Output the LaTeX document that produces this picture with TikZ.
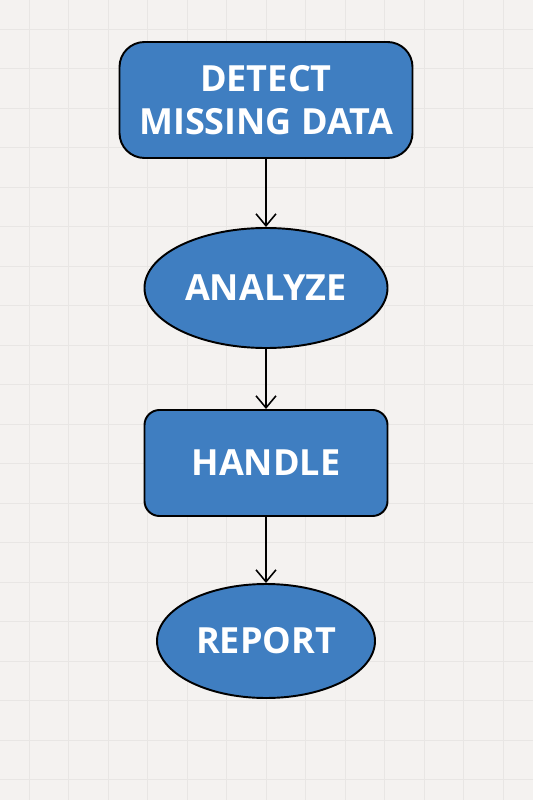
\documentclass[tikz,border=0pt]{standalone}
\usepackage{fontspec}
\setsansfont{Open Sans}
\usetikzlibrary{arrows.meta, positioning, shapes.geometric}

\definecolor{paper}{HTML}{F4F2F0}
\definecolor{gridline}{HTML}{E8E6E4}
\definecolor{stepblue}{HTML}{3F7EC1}

\begin{document}
\begin{tikzpicture}[
    block/.style={draw=black, line width=1.1pt, fill=stepblue, text=white,
        font=\sffamily\bfseries\fontsize{20.5}{24.4}\selectfont, align=center, inner sep=0pt},
    boxnode/.style={block, rectangle},
    roundnode/.style={block, ellipse},
    link/.style={-{Straight Barb[length=2.4mm, width=4mm]}, line width=0.9pt}
]
    % 背景与网格
    \fill[paper] (0,0) rectangle (10.66,-16);
    \useasboundingbox (0,0) rectangle (10.66,-16);
    \foreach \x in {0,...,13} {
        \draw[gridline, line width=0.5pt] (0.58+0.79*\x,0) -- (0.58+0.79*\x,-16);
    }
    \foreach \y in {0,...,19} {
        \draw[gridline, line width=0.5pt] (0,-0.58-0.79*\y) -- (10.66,-0.58-0.79*\y);
    }

    % 流程
    \node[boxnode, rounded corners=0.5cm, minimum width=5.86cm, minimum height=2.32cm]
        (detect) at (5.32,-2.0) {DETECT\\MISSING DATA};
    \node[roundnode, minimum width=4.86cm, minimum height=2.4cm]
        (analyze) at (5.32,-5.76) {ANALYZE};
    \node[boxnode, rounded corners=0.3cm, minimum width=4.86cm, minimum height=2.12cm]
        (handle) at (5.32,-9.26) {HANDLE};
    \node[roundnode, minimum width=4.36cm, minimum height=2.28cm]
        (report) at (5.32,-12.82) {REPORT};

    \draw[link] (detect) -- (analyze);
    \draw[link] (analyze) -- (handle);
    \draw[link] (handle) -- (report);
\end{tikzpicture}
\end{document}
